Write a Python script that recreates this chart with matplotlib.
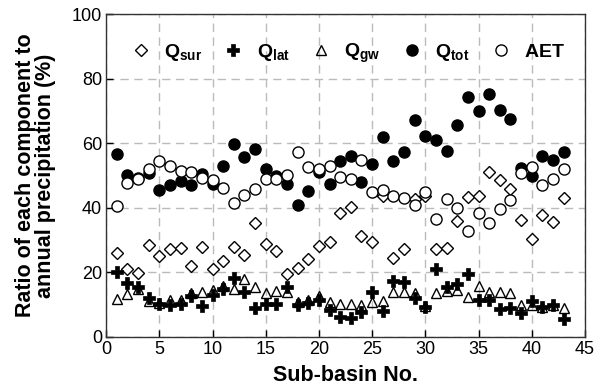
import matplotlib
matplotlib.use("Agg")
import matplotlib.pyplot as plt
import numpy as np

plt.rcParams['font.family'] = ['Liberation Sans', 'DejaVu Sans']
plt.rcParams['mathtext.fontset'] = 'custom'
plt.rcParams['mathtext.rm'] = 'Liberation Sans:bold'
plt.rcParams['mathtext.bf'] = 'Liberation Sans:bold'
plt.rcParams['mathtext.it'] = 'Liberation Sans:bold'

sub_basin = list(range(1, 44))

q_tot = [56.8, 50.1, 49.3, 50.7, 45.7, 47.0, 48.2, 47.0, 50.4, 47.3, 52.9, 59.9, 55.9, 58.4, 52.0,
         50.0, 47.3, 40.9, 45.2, 51.1, 47.4, 54.6, 56.1, 48.0, 53.6, 62.0, 54.6, 57.2, 67.1, 62.2,
         60.9, 57.6, 65.7, 74.3, 69.9, 75.3, 70.2, 67.6, 52.3, 50.0, 56.0, 54.7, 57.3]
aet = [40.5, 47.8, 49.0, 52.0, 54.6, 52.9, 51.5, 51.2, 49.3, 48.8, 46.1, 41.5, 43.9, 45.9, 49.1,
       49.1, 50.2, 57.3, 52.7, 52.0, 53.0, 49.6, 48.9, 55.0, 44.8, 45.7, 43.8, 43.1, 40.8, 44.8,
       36.7, 42.7, 40.0, 32.7, 38.3, 35.4, 39.7, 42.4, 50.8, 52.7, 47.1, 48.9, 52.1]
q_sur = [26.0, 21.0, 19.7, 28.4, 25.2, 27.1, 27.7, 22.1, 27.9, 20.9, 23.4, 27.9, 25.4, 35.2, 28.9,
         26.6, 19.6, 21.4, 24.0, 28.2, 29.5, 38.5, 40.2, 31.2, 29.5, 43.7, 24.4, 27.3, 42.8, 43.7,
         27.2, 27.5, 35.8, 43.4, 43.8, 51.0, 48.5, 45.9, 36.3, 30.5, 37.8, 35.5, 43.2]
q_lat = [20.0, 16.8, 15.4, 12.2, 10.3, 9.8, 10.2, 12.6, 9.6, 12.9, 14.8, 18.3, 14.0, 8.9, 10.3,
         10.1, 15.5, 9.9, 10.6, 11.4, 8.2, 6.3, 6.0, 7.6, 14.0, 8.1, 17.3, 17.0, 12.1, 9.4,
         21.0, 15.6, 16.4, 19.5, 11.3, 11.3, 8.6, 8.8, 7.3, 11.0, 9.3, 9.9, 5.4]
q_gw = [11.6, 13.3, 15.0, 11.1, 10.5, 11.4, 11.5, 13.7, 13.9, 14.6, 15.8, 14.9, 17.8, 15.4, 13.6,
        14.1, 14.0, 10.7, 11.5, 12.6, 10.7, 10.3, 10.3, 9.8, 10.9, 11.1, 13.8, 14.0, 13.7, 9.5,
        13.7, 14.3, 14.6, 12.3, 15.9, 14.0, 13.8, 13.7, 9.8, 10.0, 9.3, 9.9, 8.9]

labels = [r'$\mathbf{Q_{sur}}$', r'$\mathbf{Q_{lat}}$', r'$\mathbf{Q_{gw}}$',
          r'$\mathbf{Q_{tot}}$', r'$\mathbf{AET}$']

fig = plt.figure(figsize=(6.03, 3.89), dpi=100)
ax = fig.add_axes([0.176, 0.134, 0.794, 0.829])

h_sur, = ax.plot(sub_basin, q_sur, linestyle='none', marker='D', ms=6, mfc='white', mec='black', mew=1.0, zorder=3)
h_gw, = ax.plot(sub_basin, q_gw, linestyle='none', marker='^', ms=7.5, mfc='none', mec='black', mew=1.0, zorder=3)
h_lat, = ax.plot(sub_basin, q_lat, linestyle='none', marker='P', ms=8, mfc='black', mec='black', mew=0.5, zorder=4)
h_tot, = ax.plot(sub_basin, q_tot, linestyle='none', marker='o', ms=8, mfc='black', mec='black', mew=1.0, zorder=3)
h_aet, = ax.plot(sub_basin, aet, linestyle='none', marker='o', ms=8, mfc='white', mec='black', mew=1.0, zorder=4)

ax.set_xlim(0, 45)
ax.set_ylim(0, 100)
ax.set_xticks(np.arange(0, 46, 5))
ax.set_yticks(np.arange(0, 101, 20))
ax.grid(True, color='#bbbbbb', linestyle=(0, (6, 4)), linewidth=1.0, zorder=0)
ax.set_axisbelow(True)
ax.tick_params(direction='in', length=5, width=1, labelsize=13, pad=3)
for s in ax.spines.values():
    s.set_linewidth(1.0)
    s.set_color('#333333')

ax.set_xlabel('Sub-basin No.', fontsize=15.5, fontweight='bold', labelpad=5)
ax.set_ylabel('Ratio of each component to\nannual precipitation (%)', fontsize=15.5,
              fontweight='bold', labelpad=11, linespacing=0.95)

leg = ax.legend([h_sur, h_lat, h_gw, h_tot, h_aet], labels, loc='upper center',
                bbox_to_anchor=(0.505, 0.97), ncol=5, frameon=False, fontsize=14,
                handlelength=1.0, handletextpad=0.7, columnspacing=1.1)

fig.savefig('out.png', dpi=100)
